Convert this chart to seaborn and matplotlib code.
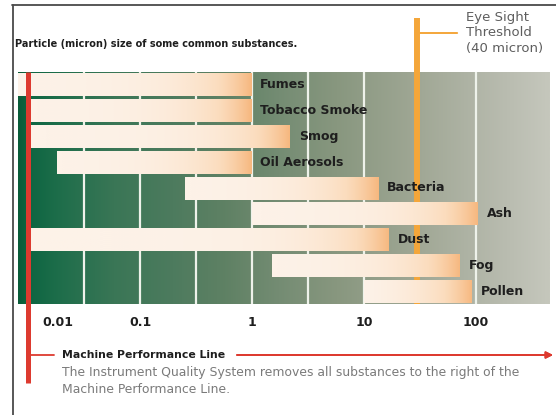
import numpy as np
import pandas as pd
import matplotlib
matplotlib.use('Agg')
import matplotlib.pyplot as plt
import seaborn as sns
from matplotlib.colors import LinearSegmentedColormap
from matplotlib.transforms import blended_transform_factory, ScaledTranslation
from matplotlib.lines import Line2D
from matplotlib.ticker import NullLocator

# particle size ranges in micron (log scale)
substances = ['Fumes', 'Tobacco Smoke', 'Smog', 'Oil Aerosols', 'Bacteria',
              'Ash', 'Dust', 'Fog', 'Pollen']
size_min = [0.008, 0.01, 0.01, 0.018, 0.25, 1.0, 0.01, 1.5, 10]
size_max = [1.0, 1.0, 2.2, 1.0, 13.5, 105, 17, 73, 94]

tick_values = [0.01, 0.1, 1, 10, 100]
tick_labels = ['0.01', '0.1', '1', '10', '100']
column_edges = [0.0316, 0.1, 0.316, 1, 3.16, 10, 100]
machine_line = 0.01
eye_sight = 30

df = pd.DataFrame({'substance': substances, 'low': size_min, 'high': size_max})

sns.set_theme(style='white')
plt.rcParams['font.family'] = ['DejaVu Sans']

W, H = 556, 415
fig = plt.figure(figsize=(W / 100, H / 100), dpi=100)
ax = fig.add_axes([18 / W, 1 - 304 / H, 532 / W, 232 / H])

def fx(px):
    return px / W

def fy(py):
    return 1 - py / H

# bars via seaborn, then stretched to their [low, high] range
sns.barplot(data=df, x='high', y='substance', orient='h', width=0.9,
            color='#f8c08a', errorbar=None, ax=ax, zorder=3)

peach = LinearSegmentedColormap.from_list('peach', ['#fdf2e8', '#fbdcbd', '#f6b67c'])
bg = LinearSegmentedColormap.from_list('bg', [
    (0.00, '#0a5c39'), (0.02, '#0e6642'), (0.08, '#1f6e4b'), (0.18, '#3a7656'),
    (0.29, '#4d7b5e'), (0.39, '#5f8164'), (0.49, '#748c73'), (0.60, '#88977f'),
    (0.76, '#a1a896'), (0.92, '#b9bcb0'), (1.00, '#c5c7bc')])
grad = np.linspace(0, 1, 256).reshape(1, -1)

ax.imshow(grad, extent=[0, 1, 0, 1], transform=ax.transAxes, cmap=bg,
          aspect='auto', zorder=0, interpolation='bilinear')

ax.set_xscale('log')

bars = list(ax.patches)
for bar, lo, hi in zip(bars, df['low'], df['high']):
    y0, h = bar.get_y(), bar.get_height()
    bar.set_x(lo)
    bar.set_width(hi - lo)
    bar.set_facecolor('none')
    bar.set_edgecolor('none')
    ax.imshow(grad, extent=[lo, hi, y0 + h, y0], cmap=peach, aspect='auto',
              zorder=3, interpolation='bilinear')

for e in column_edges:
    ax.axvline(e, color='#eef2ea', lw=1.6, zorder=1)

trans = blended_transform_factory(ax.transData, ax.transAxes)

# eye sight threshold
ax.plot([eye_sight, eye_sight], [0, (304 - 18) / 232], transform=trans,
        color='#f4a63a', lw=4.3, clip_on=False, zorder=2, solid_capstyle='butt')
ax.annotate('Eye Sight\nThreshold\n(40 micron)', xy=(eye_sight, (304 - 33) / 232),
            xycoords=trans, xytext=(fx(466), fy(33)), textcoords='figure fraction',
            ha='left', va='center', fontsize=9.5, color='#5e5e5e', linespacing=1.25,
            arrowprops=dict(arrowstyle='-', color='#f4a63a', lw=1.4, shrinkA=4, shrinkB=0),
            annotation_clip=False)

# machine performance line
ax.plot([machine_line, machine_line], [-(383 - 304) / 232, 1.0], transform=trans,
        color='#dd3a2f', lw=3.6, clip_on=False, zorder=6, solid_capstyle='butt')
fig.add_artist(Line2D([fx(30), fx(54)], [fy(355)] * 2, color='#dd3a2f', lw=1.3))
fig.add_artist(plt.annotate('', xy=(fx(553), fy(355)), xytext=(fx(237), fy(355)),
                            xycoords='figure fraction',
                            arrowprops=dict(arrowstyle='-|>', color='#dd3a2f', lw=1.3,
                                            mutation_scale=10, shrinkA=0, shrinkB=0)))
fig.text(fx(62), fy(355), 'Machine Performance Line', fontsize=7.8,
         fontweight='bold', color='#1e1e1e', va='center')
fig.text(fx(62), fy(372), 'The Instrument Quality System removes all substances to the right of the',
         fontsize=8.9, color='#7a7a7a', va='center')
fig.text(fx(62), fy(389), 'Machine Performance Line.', fontsize=8.9, color='#7a7a7a', va='center')

# title
fig.text(fx(15), fy(44), 'Particle (micron) size of some common substances.',
         fontsize=7.0, fontweight='bold', color='#1e1e1e', va='center')

# labels at the end of each bar
for i, (name, hi) in enumerate(zip(df['substance'], df['high'])):
    ax.annotate(name, xy=(hi, i), xytext=(6, 0), textcoords='offset points',
                ha='left', va='center', fontsize=9, fontweight='bold',
                color='#1e1e1e', zorder=7)

ax.set_xlim(10 ** ((18 - 252) / 112), 10 ** ((550 - 252) / 112))
ax.set_ylim(len(substances) - 0.5, -0.5)
ax.set_xticks(tick_values, tick_labels)
ax.xaxis.set_minor_locator(NullLocator())
ax.tick_params(axis='x', which='both', length=0, pad=9, labelsize=9, labelcolor='#1e1e1e')
for lab in ax.get_xticklabels():
    lab.set_fontweight('bold')
ax.get_xticklabels()[0].set_transform(
    ax.get_xticklabels()[0].get_transform() + ScaledTranslation(0.30, 0, fig.dpi_scale_trans))
ax.set_yticks([])
ax.set_xlabel('')
ax.set_ylabel('')
for s in ax.spines.values():
    s.set_visible(False)

# frame around the graphic
fig.add_artist(Line2D([fx(12), 1], [fy(5.5)] * 2, color='#4a4a4a', lw=1.3))
fig.add_artist(Line2D([fx(12.5)] * 2, [0, fy(5.5)], color='#4a4a4a', lw=1.3))

fig.savefig('out.png', dpi=100)
